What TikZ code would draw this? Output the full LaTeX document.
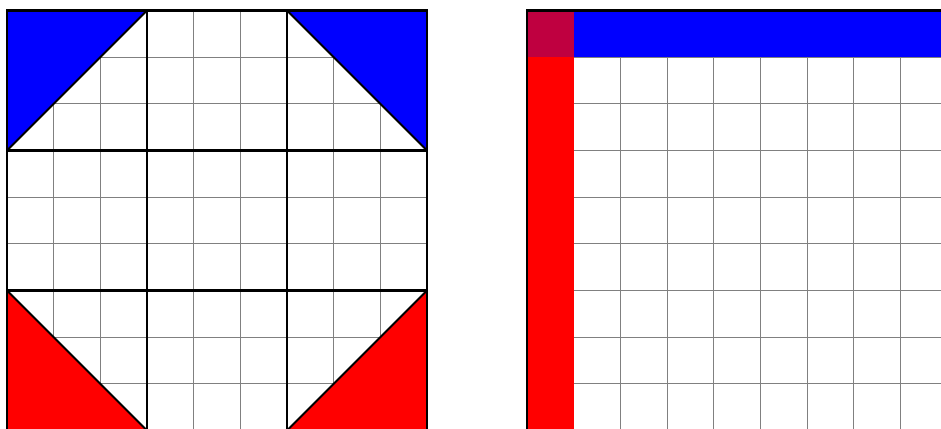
\documentclass[tikz,border=0pt]{standalone}
\usetikzlibrary{calc}
\definecolor{cornermix}{RGB}{191,0,64}
\tikzset{
  thin grid/.style={draw=gray, line width=0.75pt},
  heavy/.style={draw=black, line width=2.2pt, line cap=rect},
  hyp/.style={draw=black, line width=1.4pt},
}
\begin{document}
\begin{tikzpicture}[x=0.75pt,y=-0.75pt]
\useasboundingbox (0,0) rectangle (941,428);
\clip (0,0) rectangle (941,428);
% ---------- left square ----------
\begin{scope}[shift={(7,10.5)}, x=35pt, y=-35pt]
  \foreach \i in {1,...,8} {
    \draw[thin grid] (\i,0) -- (\i,9);
    \draw[thin grid] (0,\i) -- (9,\i);
  }
  \fill[blue] (0,0) -- (3,0) -- (0,3) -- cycle;
  \fill[blue] (6,0) -- (9,0) -- (9,3) -- cycle;
  \fill[red] (0,6) -- (0,9) -- (3,9) -- cycle;
  \fill[red] (9,6) -- (9,9) -- (6,9) -- cycle;
  \draw[hyp] (3,0) -- (0,3);
  \draw[hyp] (6,0) -- (9,3);
  \draw[hyp] (0,6) -- (3,9);
  \draw[hyp] (9,6) -- (6,9);
  \foreach \i in {0,3,6,9} {
    \draw[heavy] (\i,0) -- (\i,9);
    \draw[heavy] (0,\i) -- (9,\i);
  }
\end{scope}
% ---------- right square ----------
\begin{scope}[shift={(527,10.5)}, x=35pt, y=-35pt]
  \foreach \i in {1,...,8} {
    \draw[thin grid] (\i,0) -- (\i,9);
    \draw[thin grid] (0,\i) -- (9,\i);
  }
  \fill[red] (0,1) rectangle (1,9);
  \fill[blue] (1,0) rectangle (9,1);
  \fill[cornermix] (0,0) rectangle (1,1);
  \draw[heavy] (0,9) -- (0,0) -- (9,0);
\end{scope}
\end{tikzpicture}
\end{document}
